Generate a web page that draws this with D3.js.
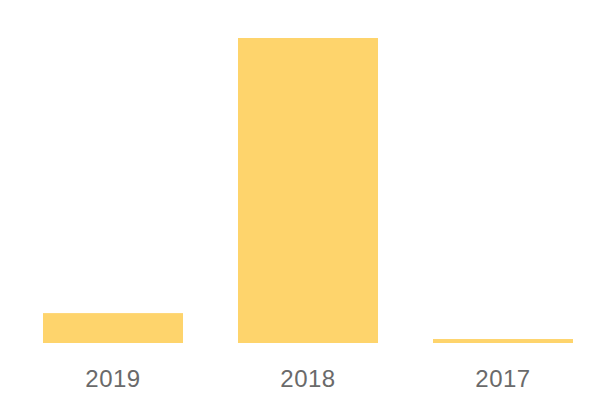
<!DOCTYPE html>
<html>
<head>
<meta charset="utf-8">
<script src="https://cdn.jsdelivr.net/npm/d3@7"></script>
<style>
  body { margin: 0; background: #fff; }
  svg { display: block; }
</style>
</head>
<body>
<svg id="chart" width="600" height="400"></svg>
<script>
var years = ['2019', '2018', '2017'];
var values = [98, 1000, 13];

document.addEventListener('DOMContentLoaded', function () {
    drawBarChart();
});

function drawBarChart() {
    const svg = d3.select('#chart');
    const width = +svg.attr('width');
    const height = +svg.attr('height');

    const margin = { top: 38, bottom: 57, left: 15.5, right: -0.5 };

    const data = years.map((y, i) => ({ key: y, value: values[i] }));

    const x = d3.scaleBand()
        .domain(years)
        .range([margin.left, width - margin.right])
        .paddingInner(0.282)
        .paddingOuter(0.141);

    const y = d3.scaleLinear()
        .domain([0, d3.max(values)])
        .range([height - margin.bottom, margin.top]);

    svg.append('g')
        .selectAll('rect')
        .data(data)
        .enter()
        .append('rect')
        .attr('x', d => x(d.key))
        .attr('y', d => y(d.value))
        .attr('width', x.bandwidth())
        .attr('height', d => y(0) - y(d.value))
        .attr('fill', '#fed46c');

    const xAxis = svg.append('g')
        .attr('transform', `translate(0,${height - margin.bottom})`)
        .call(d3.axisBottom(x).tickSize(0).tickPadding(27));

    xAxis.select('.domain').remove();
    xAxis.selectAll('text')
        .attr('fill', '#6a6a6a')
        .style('font-family', 'Liberation Sans, Arial, sans-serif')
        .style('font-size', '24px')
        .style('letter-spacing', '0.5px');
}
</script>
</body>
</html>
